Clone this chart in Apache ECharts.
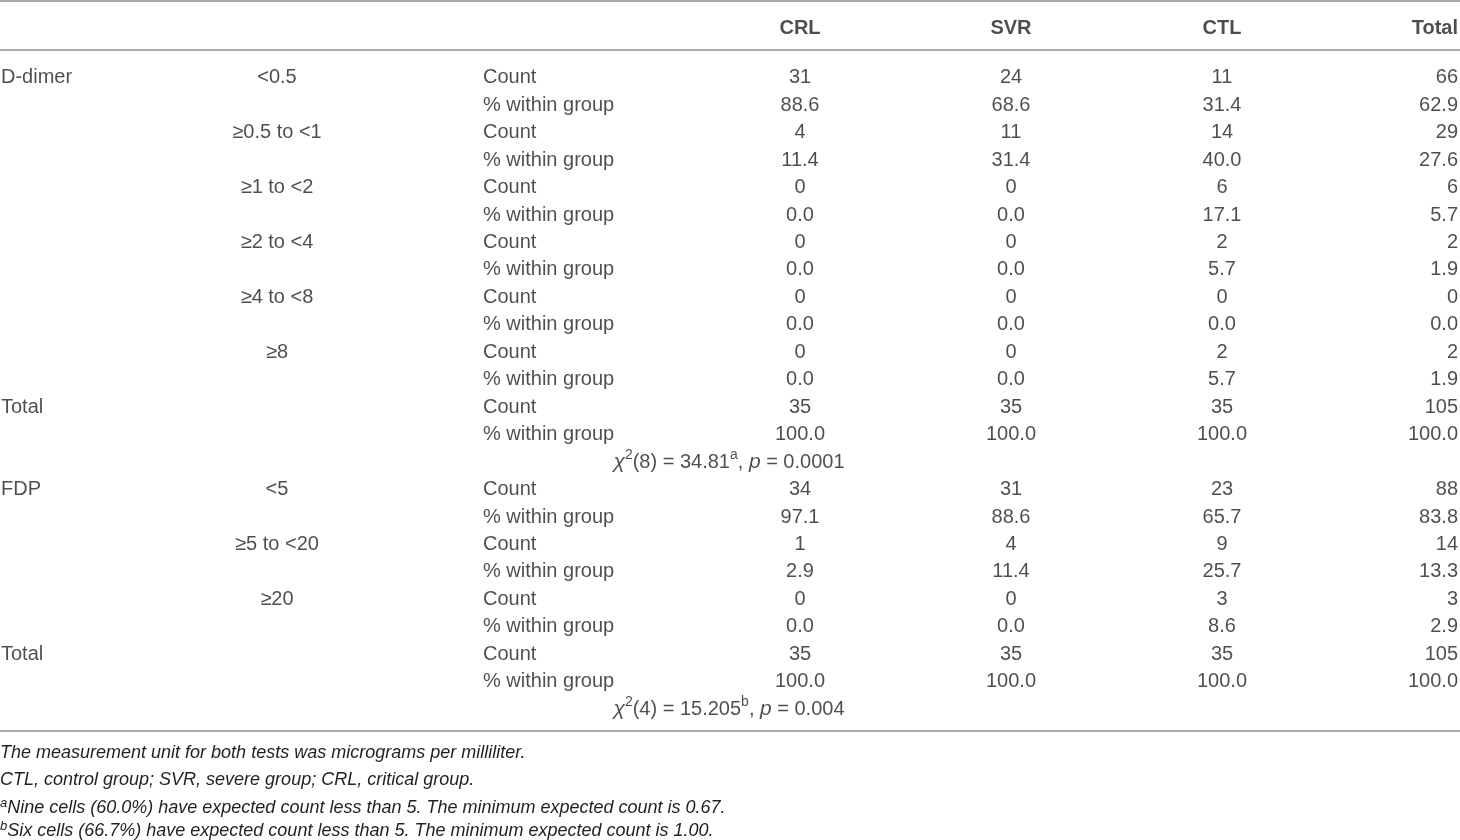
<!DOCTYPE html>
<html>
<head>
<meta charset="utf-8">
<script src="https://cdn.jsdelivr.net/npm/echarts@6/dist/echarts.min.js"></script>
<style>
  html, body { margin: 0; padding: 0; background: #fff; }
  #main { width: 1460px; height: 840px; }
</style>
</head>
<body>
<div id="main"></div>
<script>
// 表格数据
var groups = ['CRL', 'SVR', 'CTL', 'Total'];

var dLevels = ['<0.5', '≥0.5 to <1', '≥1 to <2', '≥2 to <4', '≥4 to <8', '≥8'];
var dCountCRL = [31, 4, 0, 0, 0, 0];
var dCountSVR = [24, 11, 0, 0, 0, 0];
var dCountCTL = [11, 14, 6, 2, 0, 2];
var dCountTotal = [66, 29, 6, 2, 0, 2];
var dPctCRL = ['88.6', '11.4', '0.0', '0.0', '0.0', '0.0'];
var dPctSVR = ['68.6', '31.4', '0.0', '0.0', '0.0', '0.0'];
var dPctCTL = ['31.4', '40.0', '17.1', '5.7', '0.0', '5.7'];
var dPctTotal = ['62.9', '27.6', '5.7', '1.9', '0.0', '1.9'];
var dSumCount = [35, 35, 35, 105];
var dSumPct = ['100.0', '100.0', '100.0', '100.0'];

var fLevels = ['<5', '≥5 to <20', '≥20'];
var fCountCRL = [34, 1, 0];
var fCountSVR = [31, 4, 0];
var fCountCTL = [23, 9, 3];
var fCountTotal = [88, 14, 3];
var fPctCRL = ['97.1', '2.9', '0.0'];
var fPctSVR = ['88.6', '11.4', '0.0'];
var fPctCTL = ['65.7', '25.7', '8.6'];
var fPctTotal = ['83.8', '13.3', '2.9'];
var fSumCount = [35, 35, 35, 105];
var fSumPct = ['100.0', '100.0', '100.0', '100.0'];

var dChi = { df: '8', value: '34.81', note: 'a', p: '0.0001' };
var fChi = { df: '4', value: '15.205', note: 'b', p: '0.004' };

var footnotes = [
    { sup: '', text: 'The measurement unit for both tests was micrograms per milliliter.' },
    { sup: '', text: 'CTL, control group; SVR, severe group; CRL, critical group.' },
    { sup: 'a', text: 'Nine cells (60.0%) have expected count less than 5. The minimum expected count is 0.67.' },
    { sup: 'b', text: 'Six cells (66.7%) have expected count less than 5. The minimum expected count is 1.00.' }
];

// 列的位置（布局）
var COL_X = [1, 277, 483, 800, 1011, 1222, 1458];
var COL_ALIGN = ['left', 'center', 'left', 'center', 'center', 'center', 'right'];
var CHI_X = 729;
var FONT = '"Liberation Sans", Arial, sans-serif';
var INK = '#231f20';

// 把数据拼成行
var cells = [[], [], [], [], [], [], []]; // 每列一个数组
var chiRows = [];
var row = 0;

function addBlock(name, levels, cCRL, cSVR, cCTL, cTot, pCRL, pSVR, pCTL, pTot, sumC, sumP, chi) {
    var counts = [cCRL, cSVR, cCTL, cTot];
    var pcts = [pCRL, pSVR, pCTL, pTot];
    for (var i = 0; i < levels.length; i++) {
        if (i === 0) cells[0].push([COL_X[0], String(row), name]);
        cells[1].push([COL_X[1], String(row), levels[i]]);
        cells[2].push([COL_X[2], String(row), 'Count']);
        cells[2].push([COL_X[2], String(row + 1), '% within group']);
        for (var g = 0; g < 4; g++) {
            cells[3 + g].push([COL_X[3 + g], String(row), String(counts[g][i])]);
            cells[3 + g].push([COL_X[3 + g], String(row + 1), pcts[g][i]]);
        }
        row += 2;
    }
    cells[0].push([COL_X[0], String(row), 'Total']);
    cells[2].push([COL_X[2], String(row), 'Count']);
    cells[2].push([COL_X[2], String(row + 1), '% within group']);
    for (var g2 = 0; g2 < 4; g2++) {
        cells[3 + g2].push([COL_X[3 + g2], String(row), String(sumC[g2])]);
        cells[3 + g2].push([COL_X[3 + g2], String(row + 1), sumP[g2]]);
    }
    row += 2;
    chiRows.push([CHI_X, String(row), chi]);
    row += 1;
}

addBlock('D-dimer', dLevels, dCountCRL, dCountSVR, dCountCTL, dCountTotal,
    dPctCRL, dPctSVR, dPctCTL, dPctTotal, dSumCount, dSumPct, dChi);
addBlock('FDP', fLevels, fCountCRL, fCountSVR, fCountCTL, fCountTotal,
    fPctCRL, fPctSVR, fPctCTL, fPctTotal, fSumCount, fSumPct, fChi);

var rowIds = [];
for (var r = 0; r < row; r++) rowIds.push(String(r));

var series = [];
for (var c = 0; c < cells.length; c++) {
    series.push({
        type: 'scatter',
        xAxisIndex: 1,
        yAxisIndex: 1,
        symbolSize: 0,
        silent: true,
        data: cells[c],
        label: {
            show: true,
            position: 'inside',
            align: COL_ALIGN[c],
            verticalAlign: 'middle',
            fontFamily: FONT,
            fontSize: 20,
            color: INK,
            formatter: function (p) { return p.data[2]; }
        }
    });
}

// 卡方检验行
series.push({
    type: 'scatter',
    xAxisIndex: 1,
    yAxisIndex: 1,
    symbolSize: 0,
    silent: true,
    data: chiRows,
    label: {
        show: true,
        position: 'inside',
        align: 'center',
        verticalAlign: 'middle',
        fontFamily: FONT,
        fontSize: 20,
        color: INK,
        formatter: function (p) {
            var t = p.data[2];
            return '{it|χ}{sup|2}{n|(' + t.df + ') = ' + t.value + '}{sup|' + t.note + '}{n|, }{it|p}{n| = ' + t.p + '}';
        },
        rich: {
            n: { fontFamily: FONT, fontSize: 20, color: INK, lineHeight: 24 },
            it: { fontFamily: FONT, fontSize: 21, fontStyle: 'italic', color: INK, lineHeight: 24 },
            sup: { fontFamily: FONT, fontSize: 14, color: INK, lineHeight: 24, padding: [0, 0, 14, 0] }
        }
    }
});

// 表头
series.push({
    type: 'scatter',
    xAxisIndex: 0,
    yAxisIndex: 0,
    symbolSize: 0,
    silent: true,
    data: groups.map(function (g, i) {
        return {
            value: [COL_X[3 + i], 'head', g],
            label: { align: i === 3 ? 'right' : 'center' }
        };
    }),
    label: {
        show: true,
        position: 'inside',
        verticalAlign: 'middle',
        fontFamily: FONT,
        fontSize: 20,
        fontWeight: 'bold',
        color: INK,
        formatter: function (p) { return p.value[2]; }
    }
});

var chart = echarts.init(document.getElementById('main'));

var graphics = [
    { type: 'line', shape: { x1: 0, y1: 1, x2: 1460, y2: 1 }, style: { stroke: '#8c8c8c', lineWidth: 1.5 } },
    { type: 'line', shape: { x1: 0, y1: 50, x2: 1460, y2: 50 }, style: { stroke: '#8c8c8c', lineWidth: 1.5 } },
    { type: 'line', shape: { x1: 0, y1: 731, x2: 1460, y2: 731 }, style: { stroke: '#8c8c8c', lineWidth: 1.5 } }
];
var footY = [755, 782, 808, 831];
footnotes.forEach(function (f, i) {
    graphics.push({
        type: 'text',
        left: 0,
        top: footY[i] - 11,
        style: {
            text: (f.sup ? '{s|' + f.sup + '}' : '') + '{t|' + f.text + '}',
            rich: {
                t: { fontFamily: FONT, fontSize: 18, fontStyle: 'italic', fill: INK, lineHeight: 22 },
                s: { fontFamily: FONT, fontSize: 13, fontStyle: 'italic', fill: INK, lineHeight: 12, verticalAlign: 'top' }
            }
        }
    });
});

var option = {
    backgroundColor: '#fff',
    animation: false,
    grid: [
        { left: 0, right: 0, top: 14, height: 28 },
        { left: 0, right: 0, top: 64, height: 659 }
    ],
    xAxis: [
        { type: 'value', gridIndex: 0, min: 0, max: 1460, show: false },
        { type: 'value', gridIndex: 1, min: 0, max: 1460, show: false }
    ],
    yAxis: [
        { type: 'category', gridIndex: 0, data: ['head'], show: false },
        { type: 'category', gridIndex: 1, data: rowIds, inverse: true, show: false }
    ],
    series: series,
    graphic: graphics
};

chart.setOption(option);
</script>
</body>
</html>
